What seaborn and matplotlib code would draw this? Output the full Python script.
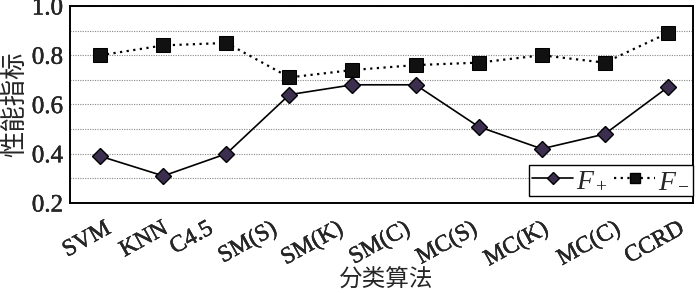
import matplotlib
matplotlib.use("Agg")
import matplotlib.pyplot as plt
import matplotlib.transforms as mtransforms
import matplotlib.patheffects as pe
import seaborn as sns
import pandas as pd
import numpy as np
from matplotlib.ticker import MultipleLocator, FixedLocator, FormatStrFormatter

categories = ["SVM", "KNN", "C4.5", "SM(S)", "SM(K)", "SM(C)", "MC(S)", "MC(K)", "MC(C)", "CCRD"]
f_plus = [0.39, 0.31, 0.40, 0.64, 0.68, 0.68, 0.51, 0.42, 0.48, 0.67]
f_minus = [0.80, 0.84, 0.85, 0.71, 0.74, 0.76, 0.77, 0.80, 0.77, 0.89]
series_names = ["$F_+$", "$F_-$"]
x_label = "分类算法"
y_label = "性能指标"

# horizontal nudges (px) of the rotated tick labels, as in the reference layout
label_nudge_px = [4, -2, -20, -19, -16, -12, -8, 0, 9, 10]

sns.set_theme(style="white")
plt.rcParams['font.family'] = ['Liberation Serif', 'Noto Sans CJK SC']
plt.rcParams['mathtext.fontset'] = 'custom'
plt.rcParams['mathtext.it'] = 'Liberation Serif:italic'
plt.rcParams['mathtext.rm'] = 'Liberation Serif'

x = np.arange(len(categories))
df = pd.DataFrame({
    "x": np.concatenate([x, x]),
    "value": f_plus + f_minus,
    "series": [series_names[0]] * len(x) + [series_names[1]] * len(x),
})

fig = plt.figure(figsize=(7, 2.93), dpi=100)
ax = fig.add_axes([70 / 700, 1 - 203 / 293, 623 / 700, 197 / 293])

sns.lineplot(data=df, x="x", y="value", hue="series", style="series",
             palette={series_names[0]: "black", series_names[1]: "black"},
             dashes={series_names[0]: "", series_names[1]: (1, 2)},
             markers={series_names[0]: "D", series_names[1]: "s"},
             markersize=9, linewidth=1.2, ax=ax, legend=False)
lines = ax.get_lines()
lines[0].set_markerfacecolor("#3b2e4f")
lines[0].set_markeredgecolor("black")
lines[0].set_markeredgewidth(1.0)
lines[0].set_markersize(8.5)
lines[1].set_markerfacecolor("#111111")
lines[1].set_markeredgecolor("black")
lines[1].set_markersize(9.5)
lines[1].set_linewidth(1.6)

ax.set_xlim(-0.48, 9.4)
ax.set_ylim(0.2, 1.0)
ax.yaxis.set_major_locator(MultipleLocator(0.2))
ax.yaxis.set_major_formatter(FormatStrFormatter("%.1f"))
ax.yaxis.set_minor_locator(MultipleLocator(0.1))
ax.grid(True, which="both", axis="y", linestyle=(0, (1, 1.2)), color="#888888", linewidth=0.8)
ax.tick_params(axis="y", which="both", length=0, labelsize=18, pad=5)

stroke = [pe.withStroke(linewidth=0.3, foreground="black")]

ax.set_xticks(x)
ax.set_xticklabels(categories, rotation=29, ha="right", va="top", rotation_mode="anchor", fontsize=17)
ax.tick_params(axis="x", which="major", length=0, pad=11)
for lab, dx in zip(ax.get_xticklabels(), label_nudge_px):
    lab.set_transform(lab.get_transform() + mtransforms.ScaledTranslation(dx / 100, 0, fig.dpi_scale_trans))
    lab.set_path_effects(stroke)
for lab in ax.get_yticklabels():
    lab.set_path_effects(stroke)
ax.xaxis.set_minor_locator(FixedLocator(x[:-1] + 0.5))
ax.tick_params(axis="x", which="minor", direction="in", length=4.5, width=1.2, color="black")

for s in ax.spines.values():
    s.set_color("black")
    s.set_linewidth(1.4)

ax.set_xlabel(x_label, fontsize=17, va="bottom")
ax.set_ylabel(y_label, fontsize=19, labelpad=3)
ax.xaxis.set_label_coords(0.508, 0.004,
                          transform=mtransforms.blended_transform_factory(ax.transAxes, fig.transFigure))

handles = [
    plt.Line2D([], [], color="black", marker="D", markerfacecolor="#3b2e4f", markeredgecolor="black", markersize=6, linewidth=1.2),
    plt.Line2D([], [], color="black", marker="s", markerfacecolor="#111111", markersize=7, linewidth=1.6, linestyle=(0, (1, 2))),
]
leg = ax.legend(handles, series_names, loc="lower right", ncol=2, fontsize=20, frameon=True,
                fancybox=False, edgecolor="black", handlelength=1.5, columnspacing=0.2,
                handletextpad=0.1, borderpad=0.1, borderaxespad=0.0,
                bbox_to_anchor=(1.0, 7 / 197), framealpha=1)
leg.get_frame().set_linewidth(1.0)

fig.savefig("out.png", dpi=100)
